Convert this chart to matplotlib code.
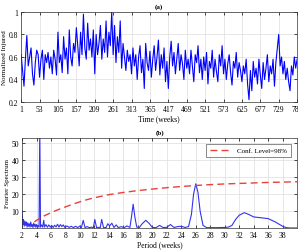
"""
Weekly normalized injured series and its Fourier spectrum
"""

import numpy as np
import matplotlib
matplotlib.use('Agg')
import matplotlib.pyplot as plt

plt.rcParams['font.family'] = ['Liberation Serif', 'DejaVu Serif']

# (a) normalized injured, sampled every 4 weeks from week 1 to 781
weeks = np.arange(1, 782, 4)
injured = [
    0.62, 0.48, 0.34, 0.58, 0.79, 0.52, 0.60, 0.68, 0.45, 0.35, 0.55, 0.66, 0.62,
    0.42, 0.58, 0.66, 0.40, 0.62, 0.55, 0.64, 0.50, 0.60, 0.45, 0.66, 0.58, 0.44,
    0.82, 0.55, 0.62, 0.46, 0.78, 0.58, 0.68, 0.45, 0.84, 0.60, 0.52, 0.72, 0.64,
    0.86, 0.70, 0.52, 0.82, 0.62, 0.98, 0.68, 0.58, 0.90, 0.66, 0.76, 0.60, 0.84,
    0.45, 0.80, 0.62, 0.72, 0.88, 0.58, 0.76, 0.64, 0.92, 0.60, 0.82, 0.70, 1.00,
    0.62, 0.88, 0.55, 0.78, 0.64, 0.92, 0.50, 0.72, 0.60, 0.48, 0.66, 0.56, 0.62,
    0.45, 0.68, 0.52, 0.62, 0.40, 0.60, 0.70, 0.46, 0.58, 0.32, 0.72, 0.55, 0.48,
    0.65, 0.42, 0.58, 0.70, 0.48, 0.60, 0.75, 0.44, 0.62, 0.50, 0.68, 0.38, 0.56,
    0.32, 0.60, 0.74, 0.52, 0.64, 0.45, 0.58, 0.72, 0.48, 0.62, 0.54, 0.40, 0.66,
    0.50, 0.58, 0.45, 0.66, 0.52, 0.38, 0.62, 0.55, 0.70, 0.46, 0.58, 0.40, 0.60,
    0.48, 0.64, 0.36, 0.56, 0.50, 0.66, 0.42, 0.58, 0.47, 0.38, 0.62, 0.52, 0.70,
    0.45, 0.58, 0.40, 0.54, 0.62, 0.46, 0.35, 0.56, 0.50, 0.64, 0.42, 0.55, 0.48,
    0.38, 0.52, 0.45, 0.58, 0.36, 0.22, 0.48, 0.30, 0.56, 0.42, 0.50, 0.36, 0.58,
    0.44, 0.32, 0.55, 0.40, 0.50, 0.62, 0.38, 0.52, 0.45, 0.58, 0.34, 0.55, 0.68,
    0.80, 0.52, 0.60, 0.45, 0.56, 0.40, 0.50, 0.38, 0.30, 0.52, 0.44, 0.60, 0.50,
    0.58,
]
time_ticks = list(range(1, 782, 52))

# (b) Fourier spectrum vs period
period = [
    2.0, 2.1, 2.2, 2.3, 2.4, 2.5, 2.6, 2.7, 2.8, 2.9, 3.0, 3.1, 3.2, 3.3, 3.4,
    3.5, 3.6, 3.7, 3.8, 3.9, 4.0, 4.1, 4.2, 4.35, 4.45, 4.55, 4.7, 4.85, 5.0,
    5.1, 5.3, 5.5, 5.7, 5.9, 6.1, 6.3, 6.5, 6.7, 6.9, 7.1, 7.3, 7.5, 7.7, 7.9,
    8.2, 8.5, 8.8, 9.1, 9.4, 9.7, 10.0, 10.2, 10.45, 10.7, 11.0, 11.3, 11.6,
    11.85, 12.05, 12.3, 12.6, 12.8, 13.0, 13.25, 13.6, 13.85, 14.1, 14.4, 14.7,
    15.0, 15.3, 15.7, 16.1, 16.5, 16.9, 17.1, 17.35, 17.6, 17.85, 18.2, 18.6,
    19.1, 19.6, 20.0, 20.5, 21.0, 21.5, 22.0, 22.5, 23.0, 23.5, 24.0, 24.5,
    25.0, 25.4, 25.7, 26.0, 26.3, 26.6, 27.0, 27.5, 28.0, 29.0, 30.0, 30.5,
    31.0, 31.5, 32.0, 32.7, 33.3, 34.0, 35.0, 36.0, 37.0, 38.0, 38.5, 39.0, 40.0,
]
spectrum = [
    10, 2, 5, 1, 4, 1.5, 3.5, 0.5, 3, 1, 2.5, 0.5, 3.5, 1, 2,
    0.3, 2.8, 1, 2.2, 0.4, 2, 0.8, 1.5, 0.5, 60, 0.5, 1.8, 0.5, 4.5,
    0.5, 2, 0.4, 1.8, 0.5, 1.5, 0.3, 1.6, 0.6, 2.2, 0.5, 2, 0.8, 1.8, 0.3,
    1.2, 0.3, 1, 0.2, 1, 0.2, 1.2, 0.2, 4.5, 0.2, 0.8, 0.2, 0.5,
    0.1, 5, 0.2, 0.4, 0.1, 5, 0.3, 0.2, 2.5, 1.2, 2.8, 0.3,
    1.8, 0.2, 0.8, 0.2, 1.2, 0.3, 6, 14, 6, 0.5, 0.3, 2.5,
    4.5, 2.5, 0.3, 0.2, 1.5, 0.2, 0.4, 2, 0.3, 0.8, 1, 0.3,
    0.8, 8, 20, 26, 21, 10, 1.5, 0.2, 0.2, 0.2, 0.3, 0.5,
    1.5, 5, 7.5, 9, 8, 6.5, 6, 5.5, 3.5, 1, 0.2, 0, 0,
]
conf_period = [3.7, 4, 5, 6, 7, 8, 9, 10, 11, 12, 14, 16, 18, 20, 22, 24,
               26, 28, 30, 32, 34, 36, 38, 40]
conf_level = [3.5, 4.5, 7, 9, 10.8, 12.4, 14, 15.4, 16.7, 17.8, 19.6, 20.9,
              22, 22.9, 23.7, 24.4, 25.0, 25.5, 25.9, 26.2, 26.5, 26.8, 27.0, 27.2]

fs = 5.5
fig = plt.figure(figsize=(2.98, 2.53), dpi=100)
ax0 = fig.add_axes([0.071, 0.593, 0.926, 0.356])
ax1 = fig.add_axes([0.074, 0.095, 0.923, 0.356])

# top panel
ax0.plot(weeks, injured, color='#0000ff', linewidth=0.8)
ax0.set_xlim([1, 781])
ax0.set_ylim([0.2, 1])
ax0.set_xticks(time_ticks)
ax0.set_yticks([0.2, 0.4, 0.6, 0.8, 1])
ax0.set_yticklabels(['0.2', '0.4', '0.6', '0.8', '1'])
ax0.set_xlabel('Time (weeks)', fontsize=fs, labelpad=1)
ax0.set_ylabel('Normalized Injured', fontsize=5, labelpad=1.5)
ax0.set_title('(a)', fontsize=fs - 0.5, fontweight='bold', pad=3)

# bottom panel
ax1.plot(period, spectrum, color='#3333ee', linewidth=0.8)
ax1.plot(conf_period, conf_level, color='#e8413c', linestyle='--',
         dashes=(5, 3), linewidth=1.0, label='Conf. Level=98%')
ax1.set_xlim([2, 40])
ax1.set_ylim([0, 53])
ax1.set_xticks(range(2, 40, 2))
ax1.set_yticks([10, 20, 30, 40, 50])
ax1.set_xlabel('Period (weeks)', fontsize=fs, labelpad=1)
ax1.set_ylabel('Fourier Spectrum', fontsize=5, labelpad=1.5)
ax1.set_title('(b)', fontsize=fs - 0.5, fontweight='bold', pad=3)
leg = ax1.legend(loc='upper right', fontsize=fs - 0.5, fancybox=False,
                 borderaxespad=0.9, handlelength=3.2, borderpad=0.5)
leg.get_frame().set_edgecolor('#555555')
leg.get_frame().set_linewidth(0.6)

for ax in [ax0, ax1]:
    ax.grid(visible=True, color='#dddddd', linewidth=0.5)
    ax.set_axisbelow(True)
    ax.tick_params(axis='both', labelsize=fs, direction='in', length=2,
                   width=0.5, top=True, right=True, pad=2)
    for border in ['top', 'right', 'bottom', 'left']:
        ax.spines[border].set_linewidth(0.5)
        ax.spines[border].set_color('#333333')

fig.savefig('out.png', dpi=100)
